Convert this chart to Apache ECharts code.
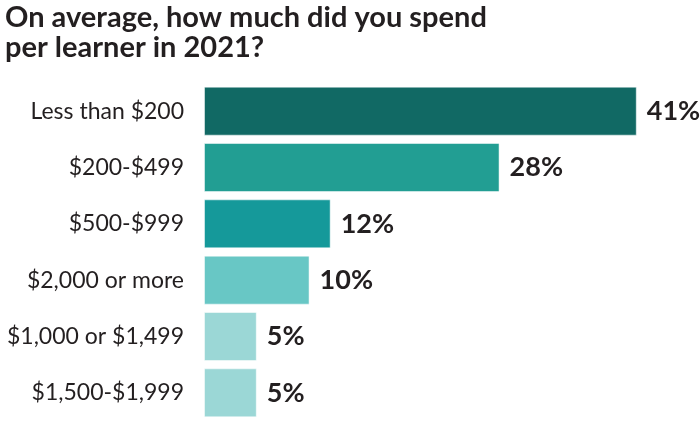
<!DOCTYPE html>
<html>
<head>
<meta charset="utf-8">
<title>Spend per learner</title>
<script src="https://cdn.jsdelivr.net/npm/echarts@6/dist/echarts.min.js"></script>
<style>
  html, body { margin: 0; padding: 0; background: #fff; }
</style>
</head>
<body>
<div id="main" style="width:700px;height:421px;"></div>
<script type="text/javascript">
// data, top to bottom
var categories = ['Less than $200', '$200-$499', '$500-$999', '$2,000 or more', '$1,000 or $1,499', '$1,500-$1,999'];
var shares = [41, 28, 12, 10, 5, 5];
var barColors = ['#116964', '#229e93', '#15999a', '#68c7c5', '#9bd7d6', '#9bd7d6'];

var myChart = echarts.init(document.getElementById('main'));

var option = {
  animation: false,
  title: {
    text: 'On average, how much did you spend\nper learner in 2021?',
    left: 0,
    top: -2,
    textStyle: {
      fontFamily: 'Lato',
      fontWeight: 'bold',
      fontSize: 29,
      lineHeight: 30,
      color: '#231f20'
    }
  },
  grid: { left: 204, top: 83, width: 475, height: 342, containLabel: false },
  xAxis: { type: 'value', min: 0, max: 45, show: false },
  yAxis: {
    type: 'category',
    data: categories,
    inverse: true,
    axisLine: { show: false },
    axisTick: { show: false },
    axisLabel: {
      margin: 20,
      fontFamily: 'Lato',
      fontSize: 23,
      color: '#231f20'
    }
  },
  series: [{
    type: 'bar',
    data: shares.map(function (v, i) {
      return { value: v, itemStyle: { color: barColors[i] } };
    }),
    barWidth: 49,
    itemStyle: { borderColor: 'rgba(255,255,255,0.5)', borderWidth: 1 },
    label: {
      show: true,
      position: 'right',
      distance: 10,
      formatter: '{c}%',
      fontFamily: 'Lato',
      fontWeight: 'bold',
      fontSize: 27,
      color: '#231f20'
    }
  }]
};

myChart.setOption(option);
</script>
</body>
</html>
